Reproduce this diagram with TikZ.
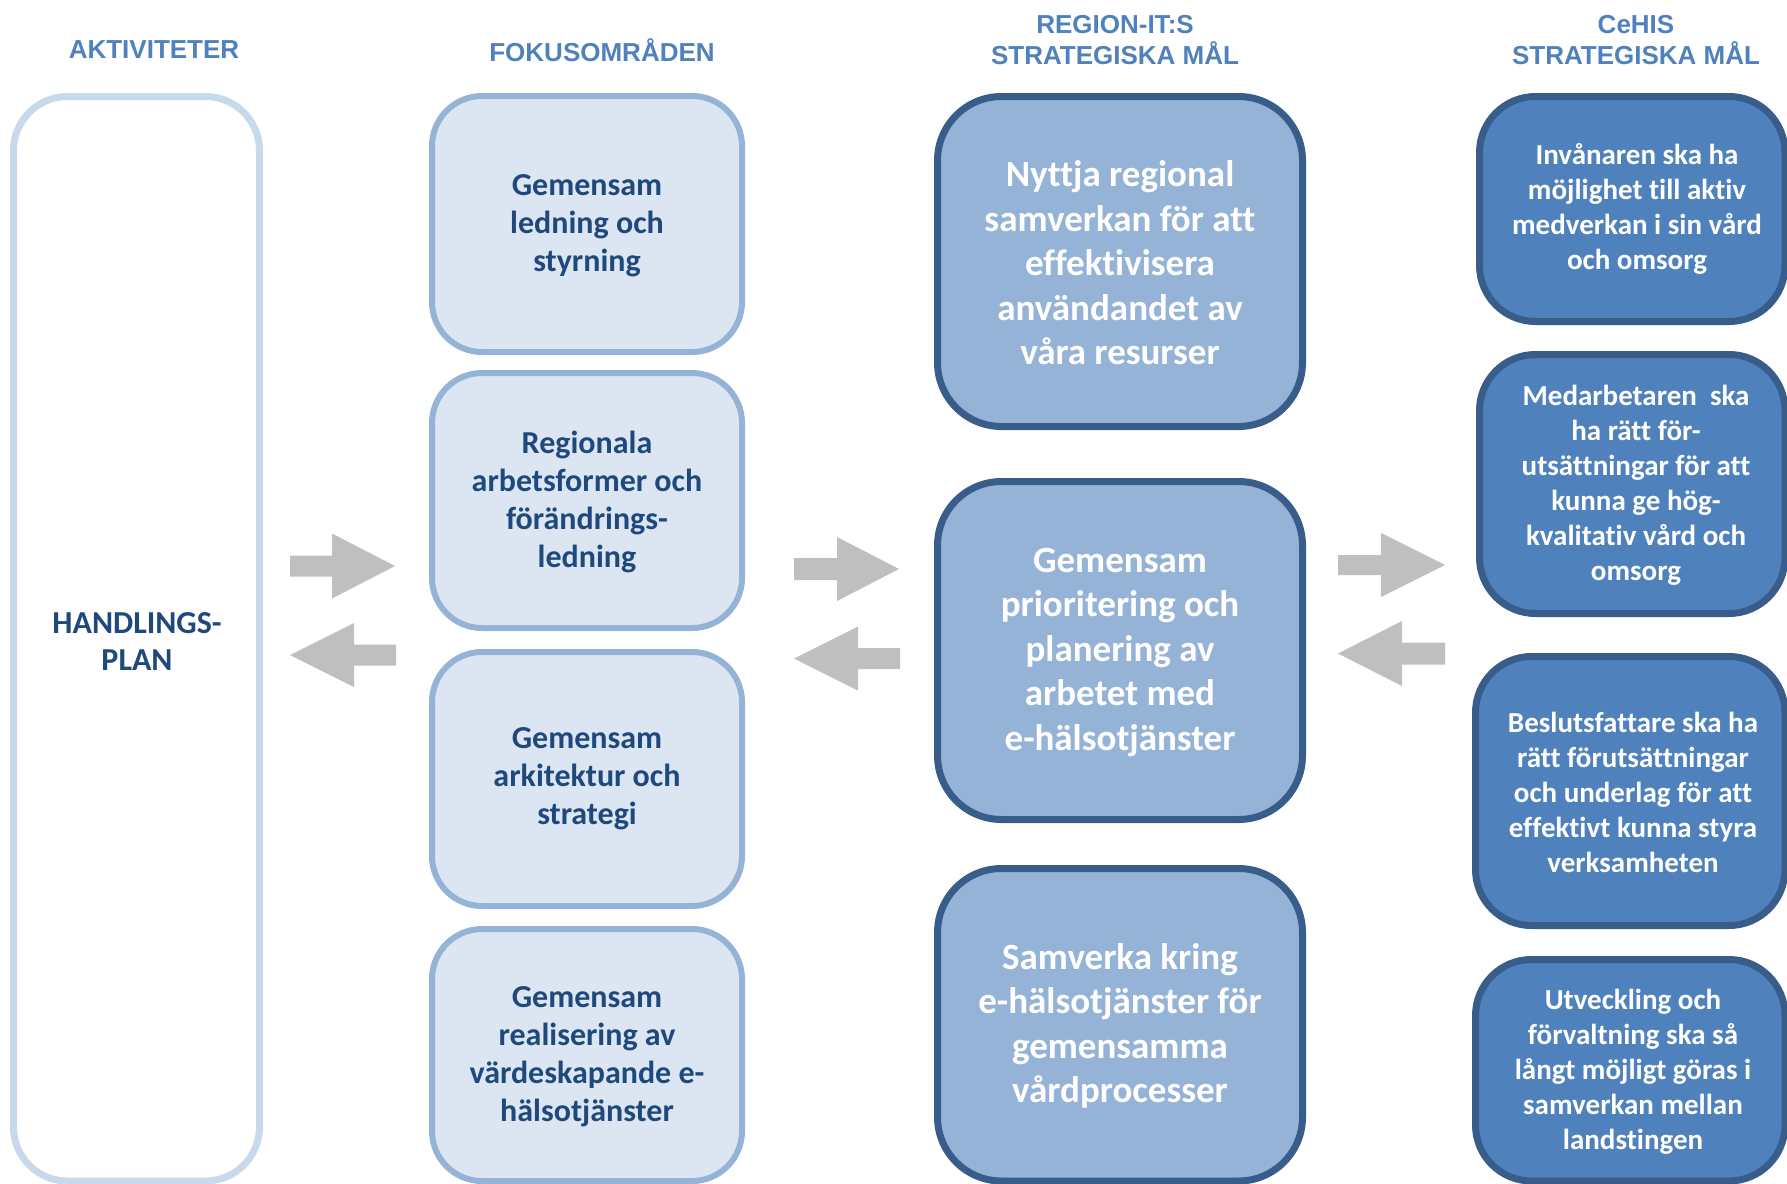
\documentclass[tikz,border=0pt]{standalone}
\usepackage{fontspec}
\setmainfont{Carlito}[Ligatures={NoCommon}]
\newfontfamily\hdrfont{Liberation Sans}
\definecolor{hdrblue}{HTML}{4F81BD}
\definecolor{navy}{HTML}{1F497D}
\definecolor{leftline}{HTML}{C9D9EC}
\definecolor{focusfill}{HTML}{DCE6F2}
\definecolor{focusline}{HTML}{95B3D7}
\definecolor{regionfill}{HTML}{95B3D7}
\definecolor{darkline}{HTML}{385D8A}
\definecolor{cehisfill}{HTML}{4F81BD}
\definecolor{arrowgray}{HTML}{BFBFBF}
\tikzset{
  hdr/.style={font=\hdrfont\bfseries\fontsize{13pt}{15.5pt}\selectfont, text=hdrblue, align=center, inner sep=0pt},
  leftbox/.style={draw=leftline, line width=3.5pt, fill=white, rounded corners=27pt, inner sep=0pt},
  focusbox/.style={draw=focusline, line width=3pt, fill=focusfill, rounded corners=25pt, inner sep=0pt, minimum width=155pt},
  regionbox/.style={draw=darkline, line width=3.5pt, fill=regionfill, rounded corners=32pt, inner sep=0pt, minimum width=182.5pt},
  cehisbox/.style={draw=darkline, line width=3.5pt, fill=cehisfill, rounded corners=28pt, inner sep=0pt},
  focustext/.style={font=\bfseries\fontsize{16pt}{19pt}\selectfont, text=navy, align=center, inner sep=0pt},
  regiontext/.style={font=\bfseries\fontsize{18.5pt}{22.25pt}\selectfont, text=white, align=center, inner sep=0pt},
  cehistext/.style={font=\bfseries\fontsize{14.5pt}{17.5pt}\selectfont, text=white, align=center, inner sep=0pt},
  blockarrow/.style={fill=arrowgray, draw=none}
}
\begin{document}
\begin{tikzpicture}[x=0.5pt,y=-0.5pt]
\useasboundingbox (0,0) rectangle (1787,1183);
% headers
\node[hdr] (h1) at (154,50) {AKTIVITETER};
\node[hdr] (h2) at (602,50) {FOKUSOMRÅDEN};
\node[hdr] (h3) at (1115,40) {REGION-IT:S\\STRATEGISKA MÅL};
\node[hdr] (h4) at (1636,40) {CeHIS\\STRATEGISKA MÅL};
% left column
\node[leftbox, minimum width=123pt, minimum height=542.25pt] (hp) at (136.5,638.75) {};
\node[focustext, font=\bfseries\fontsize{16pt}{18.5pt}\selectfont] (hpt) at (137,641) {HANDLINGS-\\PLAN};
% focus boxes
\node[focusbox, minimum height=128pt] (f1) at (587,224) {};
\node[focusbox, minimum height=127.5pt] (f2) at (587,500.5) {};
\node[focusbox, minimum height=127pt] (f3) at (587,779) {};
\node[focusbox, minimum height=126pt] (f4) at (587,1055) {};
\node[focustext] (f1t) at (587,226) {Gemensam\\ledning och\\styrning};
\node[focustext] (f2t) at (587,502) {Regionala\\arbetsformer och\\förändrings-\\ledning};
\node[focustext] (f3t) at (587,779) {Gemensam\\arkitektur och\\strategi};
\node[focustext] (f4t) at (587,1057) {Gemensam\\realisering av\\värdeskapande e-\\hälsotjänster};
% region boxes
\node[regionbox, minimum height=165pt] (r1) at (1120,261.5) {};
\node[regionbox, minimum height=169pt] (r2) at (1120,650.5) {};
\node[regionbox, minimum height=156.25pt] (r3) at (1120,1024.75) {};
\node[regiontext] (r1t) at (1120,263) {Nyttja regional\\samverkan för att\\effektivisera\\användandet av\\våra resurser};
\node[regiontext] (r2t) at (1120,652) {Gemensam\\prioritering och\\planering av\\arbetet med\\e-hälsotjänster};
\node[regiontext] (r3t) at (1120,1026) {Samverka kring\\e-hälsotjänster för\\gemensamma\\vårdprocesser};
% CeHIS boxes
\node[cehisbox, minimum width=152.75pt, minimum height=112.5pt] (c1) at (1632.25,209) {};
\node[cehisbox, minimum width=152.75pt, minimum height=129.5pt] (c2) at (1632.25,484) {};
\node[cehisbox, minimum width=154.75pt, minimum height=134.5pt] (c3) at (1630.25,791) {};
\node[cehisbox, minimum width=154.75pt, minimum height=110.75pt] (c4) at (1630.25,1070.25) {};
\node[cehistext] (c1t) at (1637,209) {Invånaren ska ha\\möjlighet till aktiv\\medverkan i sin vård\\och omsorg};
\node[cehistext] (c2t) at (1636,485) {Medarbetaren~ ska\\ha rätt för-\\utsättningar för att\\kunna ge hög-\\kvalitativ vård och\\omsorg};
\node[cehistext] (c3t) at (1633,792) {Beslutsfattare ska ha\\rätt förutsättningar\\och underlag för att\\effektivt kunna styra\\verksamheten};
\node[cehistext] (c4t) at (1633,1072) {Utveckling och\\förvaltning ska så\\långt möjligt göras i\\samverkan mellan\\landstingen};
% block arrows
\fill[blockarrow] (290,555.5) -- (332,555.5) -- (332,533.5) -- (395,566) -- (332,598.5) -- (332,576.5) -- (290,576.5) -- cycle;
\fill[blockarrow] (396,644.5) -- (354,644.5) -- (354,623) -- (290,655) -- (354,687) -- (354,665.5) -- (396,665.5) -- cycle;
\fill[blockarrow] (794,558) -- (837,558) -- (837,537) -- (899,569) -- (837,601) -- (837,580) -- (794,580) -- cycle;
\fill[blockarrow] (900,648) -- (858,648) -- (858,626.5) -- (794,658.5) -- (858,690.5) -- (858,669) -- (900,669) -- cycle;
\fill[blockarrow] (1338,555) -- (1381,555) -- (1381,533) -- (1445,565) -- (1381,597) -- (1381,575) -- (1338,575) -- cycle;
\fill[blockarrow] (1445,642.5) -- (1402,642.5) -- (1402,621) -- (1338,653.5) -- (1402,686) -- (1402,664.5) -- (1445,664.5) -- cycle;
\end{tikzpicture}
\end{document}
